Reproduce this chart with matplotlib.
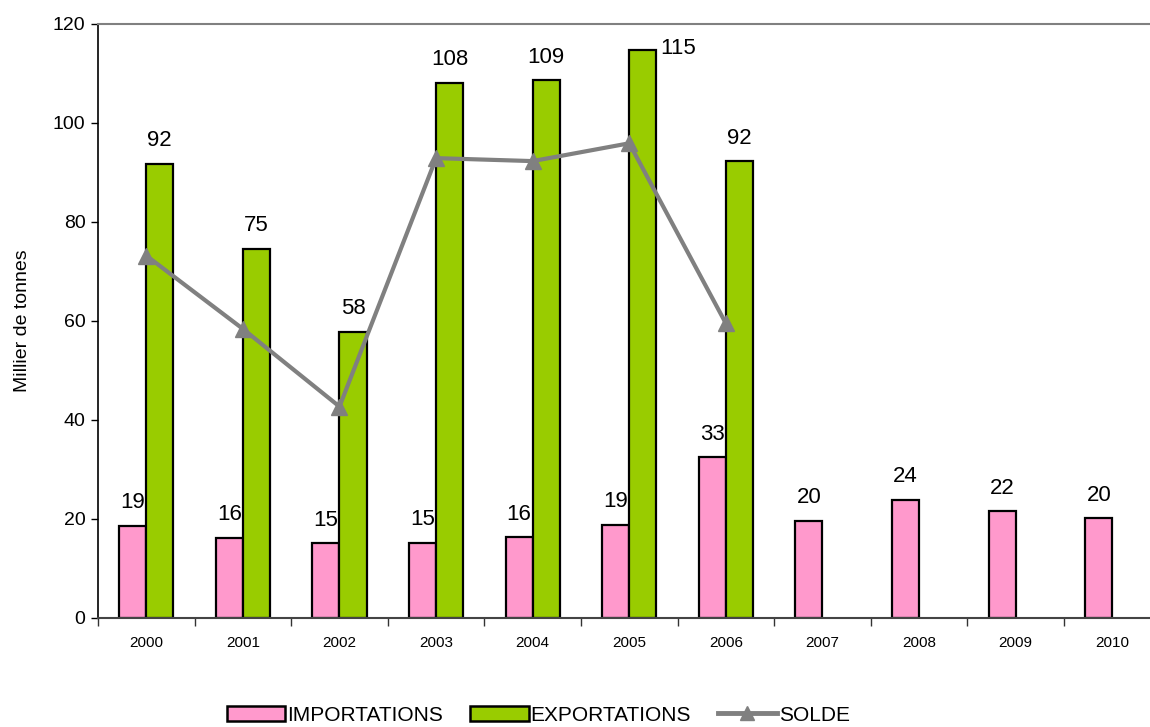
import matplotlib
matplotlib.use("Agg")
import matplotlib.pyplot as plt
import numpy as np
from matplotlib.patches import Patch
from matplotlib.lines import Line2D

plt.rcParams['font.family'] = ['Liberation Sans', 'DejaVu Sans']

years = ['2000', '2001', '2002', '2003', '2004', '2005', '2006', '2007', '2008', '2009', '2010']
importations = [18.6, 16.2, 15.1, 15.2, 16.3, 18.8, 32.5, 19.6, 23.9, 21.6, 20.1]
exportations = [91.8, 74.6, 57.8, 108.1, 108.6, 114.7, 92.3]
solde = [73.2, 58.4, 42.7, 92.9, 92.3, 95.9, 59.5]
imp_labels = ['19', '16', '15', '15', '16', '19', '33', '20', '24', '22', '20']
exp_labels = ['92', '75', '58', '108', '109', '115', '92']

PINK = '#FF99CC'
GREEN = '#99CC00'
GREY = '#808080'

fig = plt.figure(figsize=(11.5, 7.27), dpi=100)
ax = fig.add_axes([0.0852, 0.150, 0.924, 0.817])

x = np.arange(len(years))
xe = np.arange(len(exportations))
w = 0.28

ax.bar(x - w / 2, importations, w, color=PINK, edgecolor='black', linewidth=1.6, zorder=2)
ax.bar(xe + w / 2, exportations, w, color=GREEN, edgecolor='black', linewidth=1.6, zorder=2)
ax.plot(xe, solde, color=GREY, linewidth=3, marker='^', markersize=11, zorder=3)

LBL = 16
for xi, v, s in zip(x, importations, imp_labels):
    ax.annotate(s, (xi - w / 2, v), xytext=(0, 9), textcoords='offset points',
                ha='center', va='bottom', fontsize=LBL)
for i, (xi, v, s) in enumerate(zip(xe, exportations, exp_labels)):
    if v == max(exportations):
        ax.annotate(s, (xi + w, v), xytext=(3, -6), textcoords='offset points',
                    ha='left', va='bottom', fontsize=LBL)
    else:
        ax.annotate(s, (xi + w / 2, v), xytext=(0, 9), textcoords='offset points',
                    ha='center', va='bottom', fontsize=LBL)

ax.set_xlim(-0.5, len(years) - 0.5)
ax.set_ylim(0, 120)
ax.set_yticks(np.arange(0, 121, 20))
ax.tick_params(axis='y', labelsize=14, length=5, width=1, direction='out', pad=4)
ax.set_xticks(x)
ax.set_xticklabels(years, fontsize=11)
ax.tick_params(axis='x', which='major', length=0, pad=13)
ax.set_xticks(np.arange(-0.5, len(years), 1), minor=True)
ax.tick_params(axis='x', which='minor', length=6, width=1, direction='out', color='#333333')

ax.spines['left'].set_color('black')
ax.spines['left'].set_linewidth(1.2)
ax.spines['bottom'].set_color('#444444')
ax.spines['bottom'].set_linewidth(1.5)
ax.spines['top'].set_color(GREY)
ax.spines['top'].set_linewidth(1.5)
ax.spines['right'].set_visible(False)

ax.set_ylabel('Millier de tonnes', fontsize=14, labelpad=16)

handles = [
    Patch(facecolor=PINK, edgecolor='black', linewidth=1.8, label='IMPORTATIONS'),
    Patch(facecolor=GREEN, edgecolor='black', linewidth=1.8, label='EXPORTATIONS'),
    Line2D([0], [0], color=GREY, linewidth=3.5, marker='^', markersize=10, label='SOLDE'),
]
fig.legend(handles=handles, loc='center', bbox_to_anchor=(0.468, 0.0165), ncol=3,
           frameon=False, fontsize=15, handlelength=2.8, handleheight=0.7,
           handletextpad=0.1, columnspacing=1.3)

fig.savefig('out.png', dpi=100)
